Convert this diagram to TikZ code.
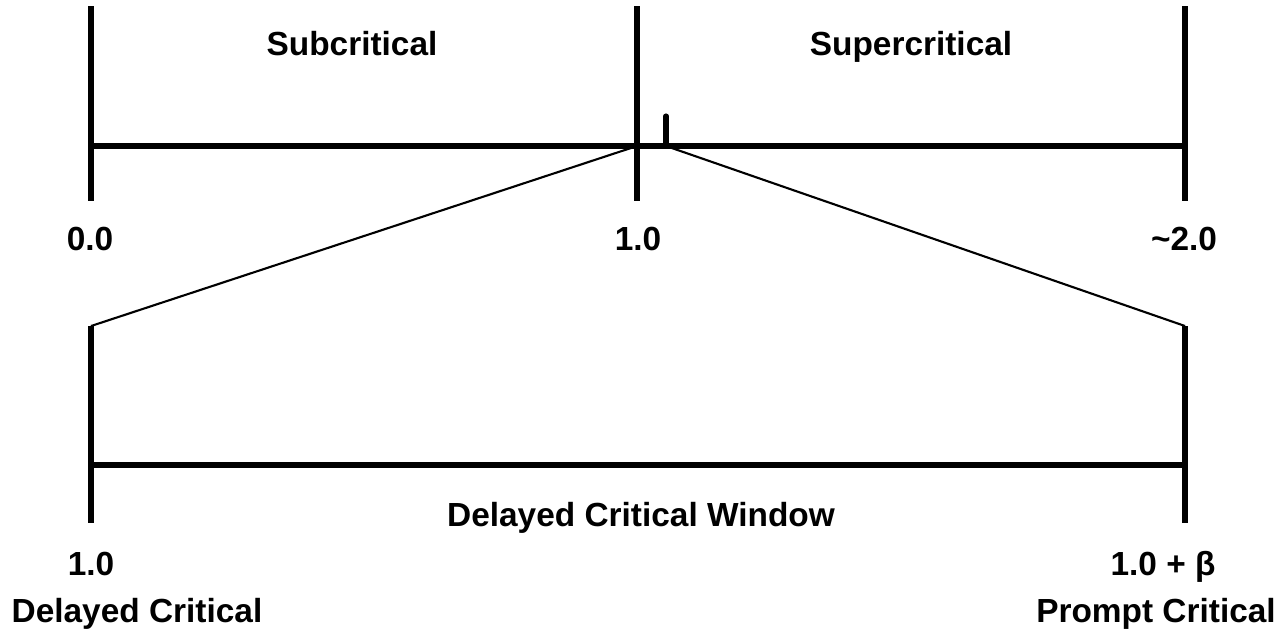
\documentclass[tikz,border=0pt]{standalone}
\usepackage{fontspec}
\setmainfont{Liberation Sans}
\begin{document}
\begin{tikzpicture}[x=0.01cm,y=-0.01cm,
  thick line/.style={line width=1.45pt},
  thin line/.style={line width=0.6pt},
  lbl/.style={anchor=base,inner sep=0pt,font=\fontsize{9.5}{11}\selectfont\bfseries}]
\useasboundingbox (0,0) rectangle (1280,632);
% top axis
\coordinate (a0t) at (91,6);   \coordinate (a0b) at (91,201);
\coordinate (a1t) at (637,6);  \coordinate (a1b) at (637,201);
\coordinate (a2t) at (1185,6); \coordinate (a2b) at (1185,201);
\coordinate (h0) at (91,146);  \coordinate (h1) at (637,146);
\coordinate (h2) at (1185,146);
\coordinate (tk) at (666,146); \coordinate (tkt) at (666,116);
\draw[thick line] (a0t) -- (a0b);
\draw[thick line] (a1t) -- (a1b);
\draw[thick line] (a2t) -- (a2b);
\draw[thick line] (h0) -- (h2);
\draw[thick line,line cap=round] (tk) -- (tkt);
% bottom axis
\coordinate (b0t) at (91,326);  \coordinate (b0b) at (91,523);
\coordinate (b2t) at (1185,326); \coordinate (b2b) at (1185,523);
\coordinate (g0) at (91,465); \coordinate (g2) at (1185,465);
\draw[thick line] (b0t) -- (b0b);
\draw[thick line] (b2t) -- (b2b);
\draw[thick line] (g0) -- (g2);
% zoom lines
\draw[thin line] (h1) -- (b0t);
\draw[thin line] (tk) -- (b2t);
% labels
\node[lbl] (sub) at (352,55) {Subcritical};
\node[lbl] (sup) at (911,55) {Supercritical};
\node[lbl] (l0) at (90,250) {0.0};
\node[lbl] (l1) at (638,250) {1.0};
\node[lbl] (l2) at (1184,250) {\char"007E 2.0};
\node[lbl] (win) at (641,526) {Delayed Critical Window};
\node[lbl] (b1) at (91,575) {1.0};
\node[lbl] (bb) at (1163,575) {1.0 + β};
\node[lbl] (dc) at (137,622) {Delayed Critical};
\node[lbl] (pc) at (1156,622) {Prompt Critical};
\end{tikzpicture}
\end{document}
